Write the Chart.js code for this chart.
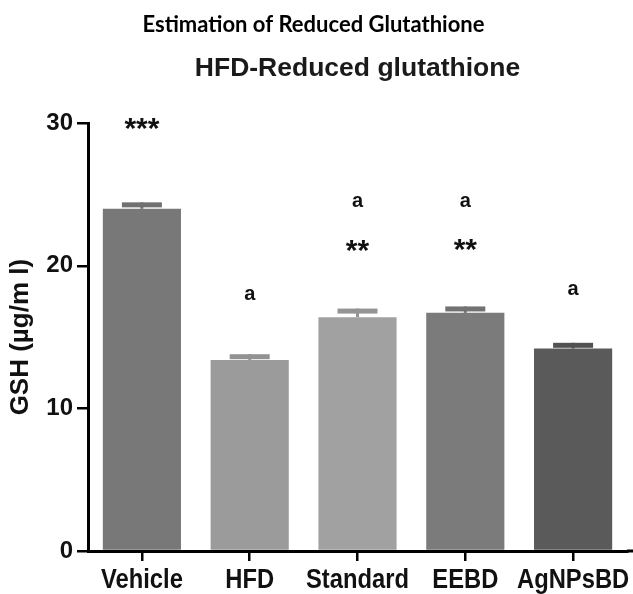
<!DOCTYPE html>
<html>
<head>
<meta charset="utf-8">
<title>Estimation of Reduced Glutathione</title>
<script src="https://cdn.jsdelivr.net/npm/chart.js@4.4.1/dist/chart.umd.min.js"></script>
<style>
  html, body { margin: 0; padding: 0; background: #fff; }
  canvas { display: block; }
</style>
</head>
<body>
<canvas id="gshChart" width="633" height="594"></canvas>
<script>
// values (µg/ml)
const groups = ['Vehicle', 'HFD', 'Standard', 'EEBD', 'AgNPsBD'];
const gshMean = [24.0, 13.4, 16.4, 16.7, 14.2];
const gshSem = [0.45, 0.4, 0.6, 0.45, 0.4];
const yTicks = [0, 10, 20, 30];

// significance marks and the level (in µg/ml) where each sits
const starMarks = ['***', '', '**', '**', ''];
const starLevels = [30.07, null, 21.5, 21.57, null];
const letterMarks = ['', 'a', 'a', 'a', 'a'];
const letterLevels = [null, 17.99, 24.52, 24.52, 18.34];

const barColors = ['#787878', '#9b9b9b', '#a1a1a1', '#7b7b7b', '#5a5a5a'];
const capColors = ['#707070', '#929292', '#949494', '#727272', '#525252'];

const boldSans = "'Liberation Sans', Arial, sans-serif";

const errorBars = {
  id: 'errorBars',
  afterDatasetsDraw(chart) {
    const { ctx, scales: { y } } = chart;
    const meta = chart.getDatasetMeta(0);
    ctx.save();
    meta.data.forEach((bar, i) => {
      const top = y.getPixelForValue(gshMean[i] + gshSem[i]);
      const base = y.getPixelForValue(gshMean[i]);
      ctx.fillStyle = capColors[i];
      ctx.fillRect(bar.x - 1.5, top, 3, base - top);
      ctx.fillRect(bar.x - 20, top, 40, 5);
    });
    ctx.restore();
  }
};

const sigMarks = {
  id: 'sigMarks',
  afterDraw(chart) {
    const { ctx, scales: { y } } = chart;
    const meta = chart.getDatasetMeta(0);
    ctx.save();
    ctx.fillStyle = '#111';
    ctx.textAlign = 'center';
    ctx.textBaseline = 'alphabetic';
    meta.data.forEach((bar, i) => {
      if (starMarks[i]) {
        ctx.font = 'bold 30px ' + boldSans;
        ctx.fillText(starMarks[i], bar.x, y.getPixelForValue(starLevels[i]) + 16);
      }
      if (letterMarks[i]) {
        ctx.font = 'bold 20px ' + boldSans;
        ctx.fillText(letterMarks[i], bar.x, y.getPixelForValue(letterLevels[i]) + 6);
      }
    });
    ctx.restore();
  }
};

// x category names in a narrowed bold face, like the original figure
const xLabels = {
  id: 'xLabels',
  afterDraw(chart) {
    const { ctx, scales: { x } } = chart;
    ctx.save();
    // axis line runs on to the right edge of the figure
    ctx.fillStyle = '#000';
    ctx.fillRect(x.right, x.top - 1.5, chart.width - x.right, 3);
    ctx.font = 'bold 27px ' + boldSans;
    ctx.fillStyle = '#111';
    ctx.textAlign = 'center';
    ctx.textBaseline = 'alphabetic';
    groups.forEach((g, i) => {
      ctx.save();
      ctx.translate(x.getPixelForTick(i), x.top + 37);
      ctx.scale(0.88, 1);
      ctx.fillText(g, 0, 0);
      ctx.restore();
    });
    ctx.restore();
  }
};

new Chart(document.getElementById('gshChart'), {
  type: 'bar',
  data: {
    labels: groups,
    datasets: [{
      data: gshMean,
      backgroundColor: barColors,
      borderWidth: 0,
      barPercentage: 0.725,
      categoryPercentage: 1
    }]
  },
  options: {
    responsive: false,
    animation: false,
    devicePixelRatio: 1,
    layout: { padding: { left: 0, right: 6, top: 0, bottom: 0 } },
    plugins: {
      legend: { display: false },
      tooltip: { enabled: false },
      title: {
        display: true,
        text: 'Estimation of Reduced Glutathione',
        color: '#000',
        font: { family: "Lato, 'Open Sans', sans-serif", weight: 'bold', size: 22 },
        padding: { top: 12, bottom: 9 }
      },
      subtitle: {
        display: true,
        fullSize: false,
        text: 'HFD-Reduced glutathione',
        color: '#1a1a1a',
        font: { family: boldSans, weight: 'bold', size: 26.5 },
        padding: { top: 5, bottom: 39 }
      }
    },
    scales: {
      x: {
        offset: true,
        grid: { display: true, drawOnChartArea: false, offset: false, tickLength: 10, lineWidth: 2.5, color: '#000' },
        border: { display: true, width: 3, color: '#000' },
        ticks: { display: false },
        afterFit(s) { s.height = 43; s.paddingLeft = 0; s.paddingRight = 0; }
      },
      y: {
        min: 0,
        max: 30,
        afterBuildTicks(s) { s.ticks = yTicks.map(v => ({ value: v })); },
        grid: { display: true, drawOnChartArea: false, tickLength: 11, lineWidth: 2.5, color: '#000' },
        border: { display: true, width: 3, color: '#000' },
        ticks: {
          color: '#111',
          font: { family: boldSans, weight: 'bold', size: 24 },
          padding: 4
        },
        title: {
          display: true,
          text: 'GSH (µg/m l)',
          color: '#111',
          font: { family: boldSans, weight: 'bold', size: 26 },
          padding: { top: 5, bottom: 0 }
        },
        afterFit(s) { s.width = 88; }
      }
    }
  },
  plugins: [errorBars, sigMarks, xLabels]
});
</script>
</body>
</html>
